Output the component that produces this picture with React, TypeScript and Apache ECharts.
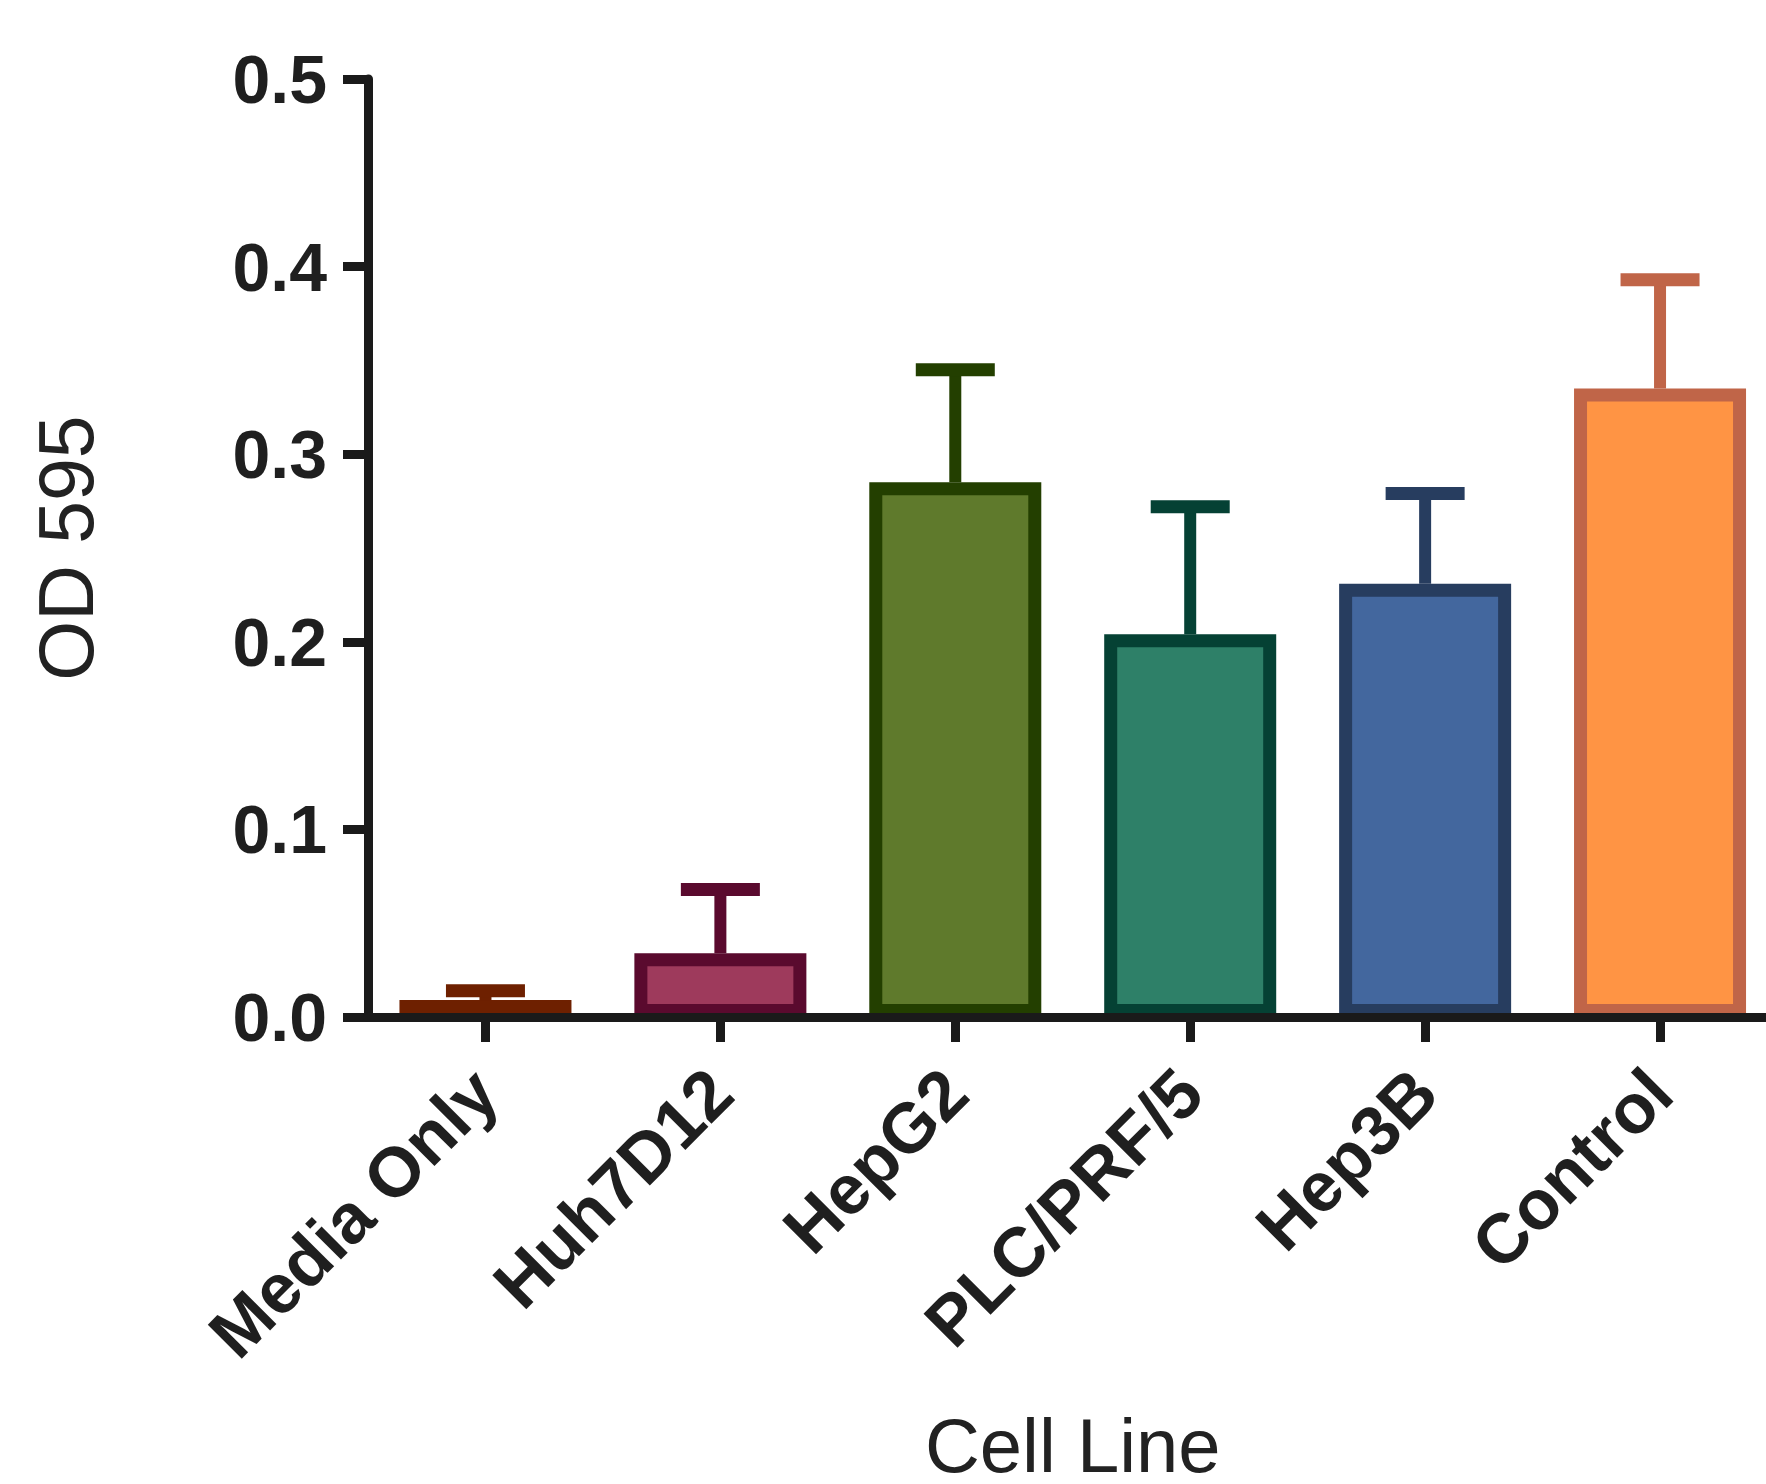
import React, { useEffect, useRef } from "react";
import * as echarts from "echarts";

const categories = ["Media Only", "Huh7D12", "HepG2", "PLC/PRF/5", "Hep3B", "Control"];
const means = [0.009, 0.034, 0.285, 0.204, 0.231, 0.335];
const errors = [0.005, 0.034, 0.060, 0.068, 0.048, 0.058];
const fillColors = ["#6E2000", "#9E3A5C", "#5F7A2C", "#2E8068", "#43679E", "#FF9444"];
const borderColors = ["#6E2000", "#5A0A2E", "#233F00", "#054134", "#273D5F", "#C06548"];
const yTicks = [0, 0.1, 0.2, 0.3, 0.4, 0.5];

const FONT = "'Liberation Sans', Arial, Helvetica, sans-serif";
const AXIS = "#1a1a1a";

export default function App() {
  const ref = useRef<HTMLDivElement>(null);
  useEffect(() => {
    document.body.style.margin = "0";
    if (!ref.current) return;
    const chart = echarts.init(ref.current, undefined, { renderer: "svg" });
    chart.setOption({
      animation: false,
      backgroundColor: "#ffffff",
      grid: {
        left: 368,
        right: -11.5,
        top: 79,
        bottom: 467,
        containLabel: false,
        outerBoundsMode: "none",
      },
      xAxis: {
        type: "category",
        data: categories,
        z: 5,
        name: "Cell Line",
        nameLocation: "middle",
        nameGap: 400,
        nameTextStyle: { fontFamily: FONT, fontSize: 76, color: "#222", lineHeight: 56 },
        axisLine: { show: true, lineStyle: { color: AXIS, width: 9 } },
        axisTick: { show: true, alignWithLabel: true, length: 25, lineStyle: { color: AXIS, width: 9 } },
        axisLabel: {
          interval: 0,
          rotate: 45,
          margin: 64,
          fontFamily: FONT,
          fontSize: 70,
          fontWeight: "bold",
          color: "#1f1f1f",
          hideOverlap: false,
        },
        splitLine: { show: false },
      },
      yAxis: {
        type: "value",
        min: yTicks[0],
        max: yTicks[yTicks.length - 1],
        interval: 0.1,
        name: "OD 595",
        nameLocation: "middle",
        nameRotate: 90,
        nameGap: 264,
        nameTextStyle: { fontFamily: FONT, fontSize: 77, color: "#222" },
        axisLine: { show: true, lineStyle: { color: AXIS, width: 9 } },
        axisTick: { show: true, length: 25, lineStyle: { color: AXIS, width: 9 } },
        axisLabel: {
          margin: 41,
          fontFamily: FONT,
          fontSize: 68,
          fontWeight: "bold",
          color: "#1f1f1f",
          formatter: (v: number) => v.toFixed(1),
        },
        splitLine: { show: false },
      },
      series: [
        {
          type: "bar",
          barWidth: 172,
          data: means.map((m, i) => ({
            value: m,
            itemStyle: { color: fillColors[i], borderColor: borderColors[i], borderWidth: 13 },
          })),
          z: 2,
        },
        {
          type: "custom",
          z: 3,
          data: means.map((m, i) => [i, m, errors[i]]),
          renderItem: (params: any, api: any) => {
            const i = api.value(0);
            const m = api.value(1);
            const e = api.value(2);
            const base = api.coord([i, m]);
            const top = api.coord([i, m + e]);
            const color = borderColors[params.dataIndex];
            const half = 39.5;
            return {
              type: "group",
              children: [
                {
                  type: "line",
                  shape: { x1: base[0], y1: base[1], x2: top[0], y2: top[1] },
                  style: { stroke: color, lineWidth: 12 },
                },
                {
                  type: "line",
                  shape: { x1: top[0] - half, y1: top[1], x2: top[0] + half, y2: top[1] },
                  style: { stroke: color, lineWidth: 13 },
                },
              ],
            };
          },
        },
      ],
    });
    return () => chart.dispose();
  }, []);
  return <div ref={ref} style={{ width: 1766, height: 1484 }} />;
}
